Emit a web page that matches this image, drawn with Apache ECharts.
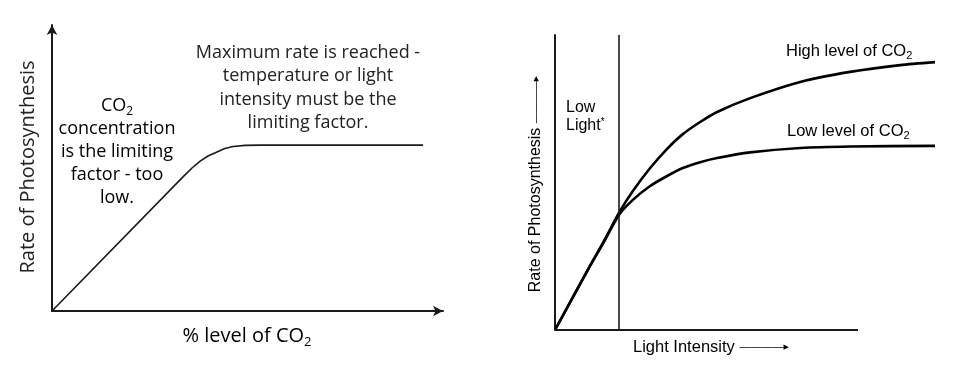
<!DOCTYPE html>
<html><head><meta charset="utf-8">
<script src="https://cdn.jsdelivr.net/npm/echarts@6/dist/echarts.min.js"></script>
<style>html,body{margin:0;padding:0;background:#fff}#c{width:965px;height:373px}</style>
</head><body><div id="c"></div>
<script>
// Left chart: rate vs % CO2
const co2Level = [0, 33.5, 35.8, 37.9, 39.9, 42.2, 44.2, 46.3, 49.4, 53.2, 94.9];
const co2Rate  = [0, 46.9, 50.0, 52.4, 54.2, 55.6, 56.8, 57.5, 57.9, 58.0, 58.0];
// Right chart: rate vs light intensity
const highX = [0, 11.55, 16.5, 21.1, 25.7, 31.4, 37.0, 42.2, 47.9, 53.5, 64.4, 80.9, 97.4, 113.9, 125.4];
const highY = [0, 21.7, 30.8, 39.7, 47.1, 54.9, 61.4, 66.4, 70.5, 73.9, 78.6, 84.1, 87.5, 89.8, 90.8];
const lowX  = [0, 11.55, 16.5, 21.1, 25.7, 31.4, 37.0, 42.2, 47.9, 53.5, 64.4, 80.9, 97.4, 125.4];
const lowY  = [0, 21.7, 30.5, 39.0, 44.1, 48.8, 52.2, 54.9, 56.9, 58.3, 60.2, 61.7, 62.2, 62.4];
const lowLightLimit = 21.1;
const lightAxisEnd = 100;   // drawn x-axis stops here; curves run on past it
const lightDomainMax = 125.4;

const zip = (a, b) => a.map((v, i) => [v, b[i]]);
const LF = '"Open Sans", sans-serif';
const RF = '"Liberation Sans", Arial, sans-serif';
const ink = '#1a1a1a';

const chart = echarts.init(document.getElementById('c'), null, {renderer: 'canvas'});
const hiddenAxisBits = {axisTick: {show: false}, axisLabel: {show: false}, splitLine: {show: false}};

chart.setOption({
  backgroundColor: '#fff',
  animation: false,
  grid: [
    {left: 52, top: 25, width: 391, height: 286},
    {left: 555, top: 35, width: 380, height: 295}
  ],
  xAxis: [
    Object.assign({gridIndex: 0, type: 'value', min: 0, max: 100,
      axisLine: {show: true, symbol: ['none', 'arrow'], symbolSize: [8, 10], lineStyle: {color: ink, width: 2}}}, hiddenAxisBits),
    Object.assign({gridIndex: 1, type: 'value', min: 0, max: lightDomainMax,
      axisLine: {show: false}}, hiddenAxisBits)
  ],
  yAxis: [
    Object.assign({gridIndex: 0, type: 'value', min: 0, max: 100,
      axisLine: {show: true, symbol: ['none', 'arrow'], symbolSize: [8, 10], lineStyle: {color: ink, width: 2}}}, hiddenAxisBits),
    Object.assign({gridIndex: 1, type: 'value', min: 0, max: 100,
      axisLine: {show: true, onZero: false, lineStyle: {color: ink, width: 2}}}, hiddenAxisBits)
  ],
  series: [
    {type: 'line', xAxisIndex: 0, yAxisIndex: 0, data: zip(co2Level, co2Rate), showSymbol: false,
      smooth: false, lineStyle: {color: ink, width: 1.6}},
    {type: 'line', xAxisIndex: 1, yAxisIndex: 1, data: zip(highX, highY), showSymbol: false,
      smooth: 0.25, lineStyle: {color: '#000', width: 2.6},
      markLine: {silent: true, symbol: ['none', 'none'], label: {show: false},
        lineStyle: {color: ink, width: 1.6, type: 'solid'}, data: [{xAxis: lowLightLimit}]}},
    {type: 'line', xAxisIndex: 1, yAxisIndex: 1, data: zip(lowX, lowY), showSymbol: false,
      smooth: 0.25, lineStyle: {color: '#000', width: 2.6},
      markLine: {silent: true, symbol: ['none', 'none'], label: {show: false},
        lineStyle: {color: ink, width: 2, type: 'solid'},
        data: [[{coord: [0, 0]}, {coord: [lightAxisEnd, 0]}]]}}
  ],
  graphic: [
    // Left chart texts
    {type: 'text', x: 28, y: 167, rotation: Math.PI / 2,
      style: {text: 'Rate of Photosynthesis', font: '20px ' + LF, fill: '#222', align: 'center', verticalAlign: 'middle'}},
    {type: 'text', x: 247, y: 336,
      style: {text: '{a|% level of CO}{s|2}', align: 'center', verticalAlign: 'middle',
        rich: {a: {fontFamily: LF, fontSize: 20, lineHeight: 26, color: '#222'},
               s: {fontFamily: LF, fontSize: 13, lineHeight: 13, verticalAlign: 'bottom', color: '#222'}}}},
    {type: 'text', x: 308, y: 88,
      style: {text: 'Maximum rate is reached -\ntemperature or light\nintensity must be the\nlimiting factor.',
        font: '18px ' + LF, lineHeight: 23.3, fill: '#222', align: 'center', verticalAlign: 'middle'}},
    {type: 'text', x: 117, y: 152,
      style: {text: '{a|CO}{s|2}\n{a|concentration}\n{a|is the limiting}\n{a|factor - too}\n{a|low.}',
        align: 'center', verticalAlign: 'middle',
        rich: {a: {fontFamily: LF, fontSize: 18, lineHeight: 23, color: '#222'},
               s: {fontFamily: LF, fontSize: 12, lineHeight: 12, verticalAlign: 'bottom', color: '#222'}}}},
    // Right chart texts
    {type: 'text', x: 536, y: 184, rotation: Math.PI / 2,
      style: {text: '{a|Rate of Photosynthesis }{l|————}{h|▶}', align: 'center', verticalAlign: 'middle',
        rich: {a: {fontFamily: RF, fontSize: 16, color: '#111'},
               l: {fontFamily: RF, fontSize: 10.5, color: '#111'},
               h: {fontFamily: 'DejaVu Sans', fontSize: 7, color: '#111'}}}},
    {type: 'text', x: 633, y: 347,
      style: {text: '{a|Light Intensity }{l|————}{h|▶}', align: 'left', verticalAlign: 'middle',
        rich: {a: {fontFamily: RF, fontSize: 16.5, color: '#111'},
               l: {fontFamily: RF, fontSize: 11, color: '#111'},
               h: {fontFamily: 'DejaVu Sans', fontSize: 7, color: '#111'}}}},
    {type: 'text', x: 566, y: 117,
      style: {text: '{a|Low}\n{a|Light}{p|*}', align: 'left', verticalAlign: 'middle',
        rich: {a: {fontFamily: RF, fontSize: 16, lineHeight: 18, color: '#111'},
               p: {fontFamily: RF, fontSize: 10, lineHeight: 10, verticalAlign: 'top', color: '#111'}}}},
    {type: 'text', x: 786, y: 51,
      style: {text: '{a|High level of CO}{s|2}', align: 'left', verticalAlign: 'middle',
        rich: {a: {fontFamily: RF, fontSize: 16.5, lineHeight: 20, color: '#111'},
               s: {fontFamily: RF, fontSize: 11, lineHeight: 11, verticalAlign: 'bottom', color: '#111'}}}},
    {type: 'text', x: 787, y: 131,
      style: {text: '{a|Low level of CO}{s|2}', align: 'left', verticalAlign: 'middle',
        rich: {a: {fontFamily: RF, fontSize: 16.5, lineHeight: 20, color: '#111'},
               s: {fontFamily: RF, fontSize: 11, lineHeight: 11, verticalAlign: 'bottom', color: '#111'}}}}
  ]
});
</script></body></html>
